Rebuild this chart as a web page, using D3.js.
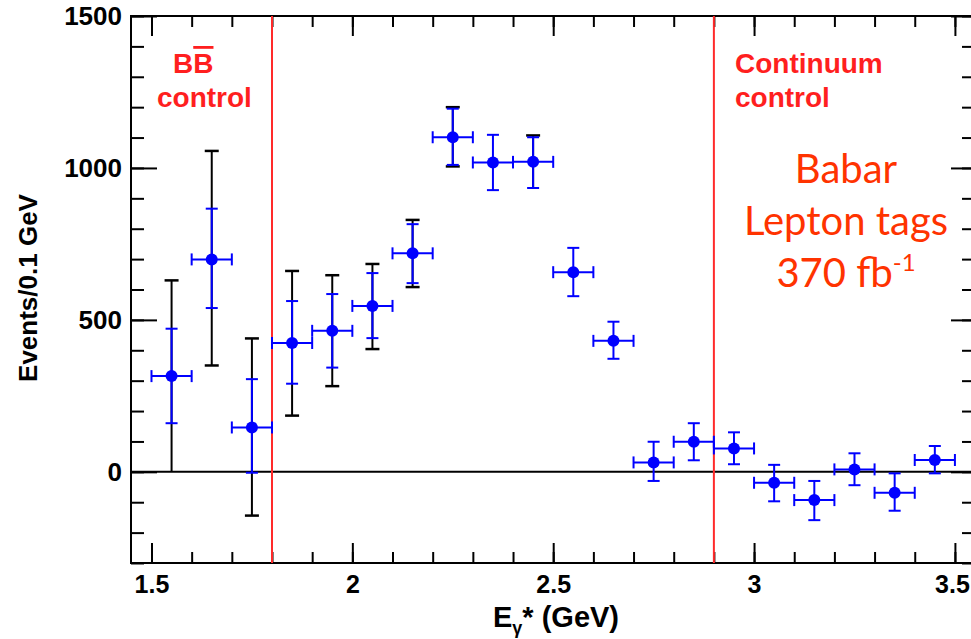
<!DOCTYPE html>
<html><head><meta charset="utf-8">
<script src="https://cdn.jsdelivr.net/npm/d3@7"></script>
<style>html,body{margin:0;padding:0;background:#fff;}svg{display:block;}</style>
</head><body>
<script>
// ---- data ----
const binCenters = [1.55,1.65,1.75,1.85,1.95,2.05,2.15,2.25,2.35,2.45,2.55,2.65,2.75,2.85,2.95,3.05,3.15,3.25,3.35,3.45];
const binHalfWidth = 0.05;
const events  = [315,699,146,424,464,546,719,1101,1018,1020,657,431,31,99,77,-36,-93,8,-69,39];
const statHi  = [471,866,305,562,585,654,815,1195,1109,1101,737,494,99,160,130,23,-30,61,-5,85];
const statLo  = [160,539,-3,290,343,440,621,1010,927,934,578,372,-30,38,25,-97,-159,-44,-128,-5];
const totalHi = [630,1056,439,661,647,684,829,1200,1109,1107,737,494,99,160,130,23,-30,61,-5,85];
const totalLo = [0,350,-144,185,282,404,608,1005,927,934,578,372,-30,38,25,-97,-159,-44,-128,-5];
const xTickLabels = [1.5,2,2.5,3,3.5];
const yTickLabels = [0,500,1000,1500];
const regionBounds = [1.8,2.9];

const W=971,H=639;
const m={l:131,t:16,r:975,b:563};
const x=d3.scaleLinear().domain([1.449,3.55]).range([m.l,m.r]);
const y=d3.scaleLinear().domain([-300,1500]).range([m.b,m.t]);

const svg=d3.select("body").append("svg").attr("width",W).attr("height",H);
svg.append("rect").attr("width",W).attr("height",H).attr("fill","#fff");

const font="'Liberation Sans', Arial, Helvetica, sans-serif";

// axes with ticks
const xMinor=d3.range(15,36).map(v=>v/10);
const yMinor=d3.range(-3,16).map(v=>v*100);
function addAxis(axisGen, tr){
  const g=svg.append("g").attr("transform",tr).call(axisGen);
  g.select(".domain").remove();
  g.selectAll("line").attr("stroke","#000").attr("stroke-width",2);
  return g;
}
// bottom
addAxis(d3.axisTop(x).tickValues(xMinor).tickSize(11).tickFormat(""),`translate(0,${m.b})`);
addAxis(d3.axisTop(x).tickValues(xTickLabels).tickSize(20).tickFormat(""),`translate(0,${m.b})`);
// top
addAxis(d3.axisBottom(x).tickValues(xMinor).tickSize(11).tickFormat(""),`translate(0,${m.t})`);
addAxis(d3.axisBottom(x).tickValues(xTickLabels).tickSize(20).tickFormat(""),`translate(0,${m.t})`);
// left
addAxis(d3.axisRight(y).tickValues(yMinor).tickSize(13).tickFormat(""),`translate(${m.l},0)`);
addAxis(d3.axisRight(y).tickValues(yTickLabels).tickSize(26).tickFormat(""),`translate(${m.l},0)`);
// right
addAxis(d3.axisLeft(y).tickValues(yMinor).tickSize(13).tickFormat(""),`translate(${m.r},0)`);
addAxis(d3.axisLeft(y).tickValues(yTickLabels).tickSize(24).tickFormat(""),`translate(${m.r},0)`);

// tick labels
const xl=d3.axisBottom(x).tickValues(xTickLabels).tickSize(0).tickPadding(12).tickFormat(d3.format("~g"));
const gx=svg.append("g").attr("transform",`translate(0,${m.b})`).call(xl);
gx.select(".domain").remove();
gx.selectAll("text").attr("font-family",font).attr("font-weight","bold").attr("font-size",25).attr("fill","#000")
  .attr("dx",d=>d===3.5?-3:0);
const yl=d3.axisLeft(y).tickValues(yTickLabels).tickSize(0).tickPadding(9).tickFormat(d3.format("d"));
const gy=svg.append("g").attr("transform",`translate(${m.l},0)`).call(yl);
gy.select(".domain").remove();
gy.selectAll("text").attr("font-family",font).attr("font-weight","bold").attr("font-size",26).attr("fill","#000");

// frame
svg.append("rect").attr("x",m.l).attr("y",m.t).attr("width",m.r-m.l).attr("height",m.b-m.t)
  .attr("fill","none").attr("stroke","#000").attr("stroke-width",2);

// zero line
svg.append("line").attr("x1",m.l).attr("x2",m.r).attr("y1",y(0)).attr("y2",y(0))
  .attr("stroke","#000").attr("stroke-width",2);

// red region lines
svg.selectAll(".reg").data(regionBounds).enter().append("line")
  .attr("x1",d=>x(d)).attr("x2",d=>x(d)).attr("y1",m.t).attr("y2",m.b)
  .attr("stroke","#ff2a2a").attr("stroke-width",2);

// data
const data=binCenters.map((c,i)=>({c,v:events[i],sh:statHi[i],sl:statLo[i],th:totalHi[i],tl:totalLo[i]}));
const pts=svg.append("g");
data.forEach(d=>{
  const g=pts.append("g");
  const cx=x(d.c);
  // total (black) error
  if(d.th!==d.sh || d.tl!==d.sl){
    g.append("line").attr("x1",cx).attr("x2",cx).attr("y1",y(d.th)).attr("y2",y(d.tl)).attr("stroke","#000").attr("stroke-width",2);
    if(d.th!==d.sh) g.append("line").attr("x1",cx-7).attr("x2",cx+7).attr("y1",y(d.th)).attr("y2",y(d.th)).attr("stroke","#000").attr("stroke-width",2.5);
    if(d.tl!==d.sl && d.tl!==0) g.append("line").attr("x1",cx-7).attr("x2",cx+7).attr("y1",y(d.tl)).attr("y2",y(d.tl)).attr("stroke","#000").attr("stroke-width",2.5);
  }
  const blue="#0000ff";
  g.append("line").attr("x1",cx).attr("x2",cx).attr("y1",y(d.sh)).attr("y2",y(d.sl)).attr("stroke",blue).attr("stroke-width",2);
  [d.sh,d.sl].forEach(v=>g.append("line").attr("x1",cx-6).attr("x2",cx+6).attr("y1",y(v)).attr("y2",y(v)).attr("stroke",blue).attr("stroke-width",2));
  const xa=x(d.c-binHalfWidth), xb=x(d.c+binHalfWidth), cy=y(d.v);
  g.append("line").attr("x1",xa).attr("x2",xb).attr("y1",cy).attr("y2",cy).attr("stroke",blue).attr("stroke-width",2);
  [xa,xb].forEach(xx=>g.append("line").attr("x1",xx).attr("x2",xx).attr("y1",cy-6).attr("y2",cy+6).attr("stroke",blue).attr("stroke-width",2));
  g.append("circle").attr("cx",cx).attr("cy",cy).attr("r",6).attr("fill",blue);
});

// axis titles
svg.append("text").attr("x",556).attr("y",627).attr("text-anchor","middle")
  .attr("font-family",font).attr("font-weight","bold").attr("font-size",29)
  .call(t=>{t.append("tspan").text("E");
            t.append("tspan").attr("font-size",18).attr("dy",7).text("γ");
            t.append("tspan").attr("dy",-7).text("* (GeV)");});
svg.append("text").attr("transform","translate(37,288) rotate(-90)").attr("text-anchor","middle")
  .attr("font-family",font).attr("font-weight","bold").attr("font-size",26).text("Events/0.1 GeV");

// region labels
const red="#ff1f1f";
svg.append("text").attr("x",173).attr("y",73).attr("font-family",font).attr("font-weight","bold").attr("font-size",28).attr("fill",red)
  .call(t=>{t.append("tspan").text("B"); t.append("tspan").style("text-decoration","overline").text("B");});
svg.append("text").attr("x",157).attr("y",107).attr("font-family",font).attr("font-weight","bold").attr("font-size",28).attr("fill",red).text("control");
svg.append("text").attr("x",735).attr("y",73).attr("font-family",font).attr("font-weight","bold").attr("font-size",28).attr("fill",red).text("Continuum");
svg.append("text").attr("x",735).attr("y",107).attr("font-family",font).attr("font-weight","bold").attr("font-size",28).attr("fill",red).text("control");

// experiment label
const lab="#ff3300", lf="Lato, 'Open Sans', sans-serif";
const lines=["Babar","Lepton tags"];
lines.forEach((s,i)=>svg.append("text").attr("x",846).attr("y",183+i*52).attr("text-anchor","middle")
  .attr("font-family",lf).attr("font-size",40).attr("fill",lab).text(s));
svg.append("text").attr("x",846).attr("y",287).attr("text-anchor","middle").attr("font-family",lf).attr("font-size",40).attr("fill",lab)
  .call(t=>{t.append("tspan").text("370 fb"); t.append("tspan").attr("font-size",24).attr("dy",-16).text("-1");});
</script>
</body></html>
